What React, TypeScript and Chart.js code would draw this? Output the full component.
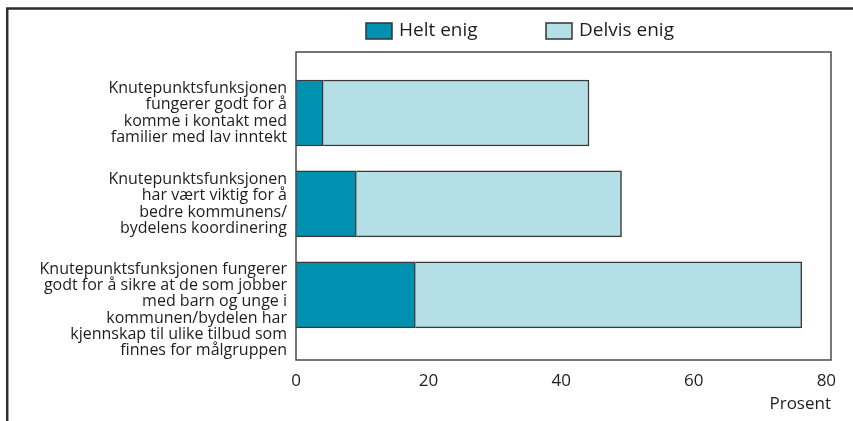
import React, { useEffect, useRef } from "react";
import { Chart, registerables } from "chart.js";

Chart.register(...registerables);

const categories: string[][] = [
  ["Knutepunktsfunksjonen", "fungerer godt for å", "komme i kontakt med", "familier med lav inntekt"],
  ["Knutepunktsfunksjonen", "har vært viktig for å", "bedre kommunens/", "bydelens koordinering"],
  [
    "Knutepunktsfunksjonen fungerer",
    "godt for å sikre at de som jobber",
    "med barn og unge i",
    "kommunen/bydelen har",
    "kjennskap til ulike tilbud som",
    "finnes for målgruppen",
  ],
];
const heltEnig: number[] = [4.1, 9.1, 18.0];
const delvisEnig: number[] = [40.1, 40.0, 58.3];
const seriesNames: string[] = ["Helt enig", "Delvis enig"];
const xTickValues: number[] = [0, 20, 40, 60, 80];
// positions of the category labels on the category axis (third label sits lower)
const labelPositions: number[] = [0, 1, 2.165];

const FONT = "'Open Sans', sans-serif";

const framePlugin = {
  id: "frame",
  beforeDraw(chart: any) {
    const ctx = chart.ctx;
    ctx.save();
    ctx.strokeStyle = "#2e2e2e";
    ctx.lineWidth = 2.5;
    ctx.beginPath();
    ctx.moveTo(7.2, chart.height);
    ctx.lineTo(7.2, 8.5);
    ctx.lineTo(chart.width, 8.5);
    ctx.stroke();
    ctx.restore();
  },
  afterDatasetsDraw(chart: any) {
    const { ctx, chartArea } = chart;
    ctx.save();
    ctx.strokeStyle = "#4a4a4a";
    ctx.lineWidth = 1.5;
    ctx.strokeRect(chartArea.left, chartArea.top, chartArea.right - chartArea.left, chartArea.bottom - chartArea.top);
    ctx.restore();
  },
};

const legendPlugin = {
  id: "customLegend",
  afterDraw(chart: any) {
    const ctx = chart.ctx;
    const starts = [366, 546];
    ctx.save();
    chart.data.datasets.forEach((ds: any, i: number) => {
      const x = starts[i];
      const y = 23;
      ctx.fillStyle = ds.backgroundColor;
      ctx.fillRect(x, y, 26, 16);
      ctx.strokeStyle = "#333";
      ctx.lineWidth = 1.5;
      ctx.strokeRect(x, y, 26, 16);
      ctx.fillStyle = "#1e1e1e";
      ctx.font = `19px ${FONT}`;
      ctx.textBaseline = "middle";
      ctx.textAlign = "left";
      ctx.fillText(ds.label, x + 33, y + 8);
    });
    ctx.restore();
  },
};

export default function App() {
  const ref = useRef<HTMLCanvasElement | null>(null);

  useEffect(() => {
    if (!ref.current) return;
    const chart = new Chart(ref.current, {
      type: "bar",
      data: {
        datasets: [
          {
            label: seriesNames[0],
            data: heltEnig.map((v, i) => ({ x: v, y: i })),
            backgroundColor: "#0091b1",
            borderColor: "#3a3a3a",
            borderWidth: 1.5,
          },
          {
            label: seriesNames[1],
            data: delvisEnig.map((v, i) => ({ x: v, y: i })),
            backgroundColor: "#b5dfe7",
            borderColor: "#3a3a3a",
            borderWidth: 1.5,
          },
        ],
      },
      options: {
        indexAxis: "y",
        responsive: false,
        animation: false,
        events: [],
        barThickness: 66,
        layout: { padding: { top: 52, right: 22, bottom: 0, left: 0 } },
        plugins: {
          legend: { display: false },
          tooltip: { enabled: false },
        },
        scales: {
          x: {
            type: "linear",
            stacked: true,
            min: 0,
            max: 80.7,
            offset: false,
            grid: { display: false, drawTicks: false },
            border: { display: false },
            afterBuildTicks: (axis: any) => {
              axis.ticks = xTickValues.map((v) => ({ value: v }));
            },
            afterFit: (axis: any) => {
              axis.height = 61;
              axis.paddingLeft = 0;
              axis.paddingRight = 0;
            },
            ticks: {
              padding: 11,
              color: "#1e1e1e",
              font: { family: FONT, size: 17 },
              maxRotation: 0,
            },
            title: {
              display: true,
              text: "Prosent",
              align: "end",
              color: "#1e1e1e",
              font: { family: FONT, size: 17 },
              padding: { top: 0, bottom: 7 },
            },
          },
          y: {
            type: "linear",
            stacked: true,
            reverse: true,
            offset: false,
            min: -0.67,
            max: 2.715,
            grid: { display: false, drawTicks: false, offset: false },
            border: { display: false },
            afterBuildTicks: (axis: any) => {
              axis.ticks = labelPositions.map((v) => ({ value: v }));
            },
            afterFit: (axis: any) => {
              axis.width = 296;
              axis.paddingTop = 0;
              axis.paddingBottom = 0;
            },
            ticks: {
              autoSkip: false,
              padding: 9,
              color: "#1e1e1e",
              font: { family: FONT, size: 16, lineHeight: 1.02 },
              callback: (value: any) => {
                const idx = labelPositions.indexOf(Number(value));
                return idx >= 0 ? categories[idx] : "";
              },
            },
          },
        },
      },
      plugins: [framePlugin, legendPlugin],
    } as any);
    return () => chart.destroy();
  }, []);

  return (
    <div style={{ position: "absolute", left: 0, top: 0, width: 853, height: 421, background: "#fff" }}>
      <canvas ref={ref} width={853} height={421} style={{ display: "block", width: 853, height: 421 }} />
    </div>
  );
}
